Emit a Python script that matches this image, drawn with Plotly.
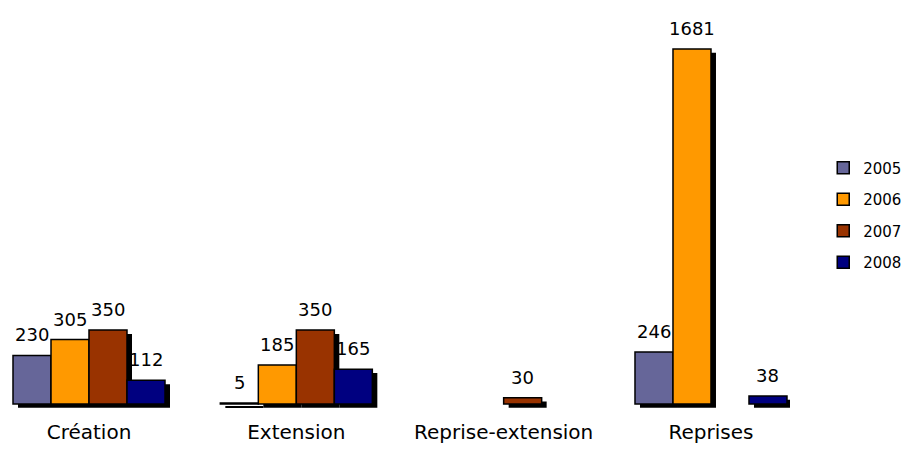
import plotly.graph_objects as go

categories = ["Création", "Extension", "Reprise-extension", "Reprises"]
series_names = ["2005", "2006", "2007", "2008"]
v2005 = [230, 5, 0, 246]
v2006 = [305, 185, 0, 1681]
v2007 = [350, 350, 30, 0]
v2008 = [112, 165, 0, 38]
colors = ["#666699", "#FF9900", "#993300", "#000080"]

values = [v2005, v2006, v2007, v2008]

CAT_PX = 207.33
W = 38 / CAT_PX
offsets = [-2 * W + i * W for i in range(4)]
shadow_dx = 5 / CAT_PX
shadow_dy = 18
FONT = "DejaVu Sans"
PLOT_W = 782

fig = go.Figure()
# shadows
for i, vals in enumerate(values):
    yv = [v if v else None for v in vals]
    fig.add_trace(go.Bar(
        x=categories, y=yv, base=[-shadow_dy] * len(vals),
        width=[W] * len(vals), offset=[offsets[i] + shadow_dx] * len(vals),
        marker=dict(color="black", line=dict(width=0)),
        showlegend=False, hoverinfo="skip"))
# bars
for i, vals in enumerate(values):
    yv = [v if v else None for v in vals]
    fig.add_trace(go.Bar(
        x=categories, y=yv, name=series_names[i],
        width=[W] * len(vals), offset=[offsets[i]] * len(vals),
        marker=dict(color=colors[i], line=dict(color="black", width=1.5)),
        legendgroup=series_names[i]))

# value labels
for i, vals in enumerate(values):
    for c, v in zip(categories, vals):
        if v > 0:
            fig.add_annotation(
                x=c, y=v, text=str(v), showarrow=False,
                xshift=(offsets[i] + W / 2) * CAT_PX, yshift=8,
                yanchor="bottom", font=dict(size=18, color="black", family=FONT))

r0 = -81 / CAT_PX
fig.update_layout(
    width=896, height=435,
    margin=dict(l=0, r=896 - PLOT_W, t=5, b=30, autoexpand=False),
    paper_bgcolor="white", plot_bgcolor="white",
    barmode="overlay",
    font=dict(family=FONT, color="black"),
    xaxis=dict(range=[r0, r0 + PLOT_W / CAT_PX], showgrid=False, zeroline=False, showline=False,
               ticks="", tickfont=dict(size=20, family=FONT), ticklabelstandoff=5,
               automargin=False),
    yaxis=dict(range=[-42.6, 1851.5], visible=False, showgrid=False, zeroline=False),
    legend=dict(x=1.0425, xanchor="left", y=0.495, yanchor="middle",
                font=dict(size=15, family=FONT), traceorder="grouped",
                tracegroupgap=9, itemwidth=30),
)

fig.write_html("out.html")
